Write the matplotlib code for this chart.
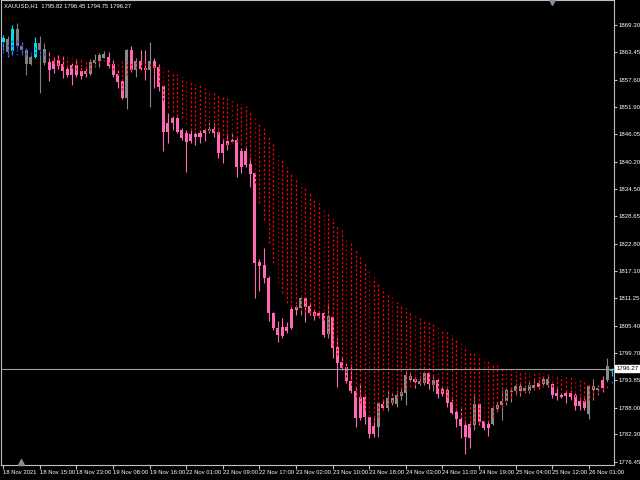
import matplotlib
matplotlib.use("Agg")
import matplotlib.pyplot as plt
import matplotlib.transforms as mtransforms
import numpy as np

plt.rcParams.update({
    "font.family": ["Liberation Sans", "DejaVu Sans"],
})

## ----- data (XAUUSD H1, 18 Nov 07:00 .. 26 Nov) ----- ##
open_ = np.array([
    1865.6, 1866.2, 1863.7, 1868.3, 1864.7, 1863.9, 1862.4, 1862.4, 1865.4, 1864.1,
    1861.3, 1861.5, 1861.8, 1860.9, 1859.9, 1860.7, 1860.7, 1859.4, 1859.4, 1858.8,
    1861.1, 1861.5, 1862.2, 1862.4, 1860.9, 1858.8, 1857.3, 1853.7, 1863.9, 1859.6,
    1861.5, 1860.1, 1859.6, 1861.5, 1860.3, 1856.2, 1848.4, 1849.4, 1849.4, 1846.9,
    1846.3, 1846.0, 1846.0, 1846.3, 1846.9, 1846.7, 1847.1, 1846.5, 1843.9, 1844.6,
    1844.8, 1844.8, 1842.4, 1842.4, 1839.7, 1837.8, 1818.9, 1818.2, 1815.5, 1808.0,
    1804.9, 1805.1, 1805.1, 1808.9, 1809.3, 1809.1, 1811.2, 1809.5, 1808.3, 1808.0,
    1808.0, 1803.6, 1807.2, 1800.8, 1797.6, 1796.6, 1793.6, 1791.5, 1790.2, 1790.2,
    1786.0, 1784.1, 1783.8, 1788.7, 1787.9, 1788.9, 1788.7, 1790.4, 1791.1, 1793.8,
    1794.0, 1793.0, 1793.2, 1795.3, 1792.8, 1793.8, 1791.9, 1791.7, 1789.2, 1787.0,
    1785.5, 1784.3, 1784.5, 1784.3, 1788.7, 1785.1, 1784.5, 1784.5, 1787.7, 1788.5,
    1789.4, 1791.3, 1791.5, 1791.5, 1791.5, 1791.5, 1792.1, 1793.2, 1793.0, 1792.8,
    1793.0, 1791.1, 1790.6, 1791.1, 1791.1, 1790.6, 1789.4, 1789.4, 1786.6, 1791.7,
    1791.7, 1793.8, 1793.8, 1795.82])
high = np.array([
    1867.1, 1866.9, 1869.2, 1869.6, 1865.6, 1864.3, 1862.8, 1866.6, 1866.9, 1865.4,
    1863.5, 1862.4, 1862.8, 1862.6, 1860.3, 1861.3, 1862.0, 1860.1, 1860.1, 1862.0,
    1863.0, 1863.2, 1863.7, 1863.5, 1861.8, 1859.6, 1857.5, 1864.1, 1864.7, 1862.2,
    1863.9, 1863.9, 1865.6, 1862.2, 1860.9, 1856.4, 1850.5, 1849.9, 1849.7, 1847.3,
    1846.9, 1846.9, 1846.5, 1846.9, 1847.1, 1848.6, 1848.4, 1846.7, 1845.2, 1846.3,
    1846.5, 1845.2, 1843.1, 1843.3, 1841.2, 1838.0, 1819.5, 1821.8, 1815.9, 1808.3,
    1806.3, 1807.0, 1806.1, 1809.3, 1809.7, 1811.4, 1811.4, 1810.2, 1808.7, 1808.3,
    1808.3, 1810.2, 1807.4, 1802.7, 1798.7, 1797.4, 1797.2, 1792.3, 1793.2, 1790.9,
    1786.4, 1785.8, 1789.2, 1789.6, 1791.7, 1791.1, 1791.7, 1792.3, 1795.7, 1795.3,
    1794.5, 1794.7, 1795.5, 1795.5, 1794.7, 1794.3, 1792.3, 1792.1, 1789.8, 1787.5,
    1787.9, 1785.3, 1784.7, 1791.1, 1788.9, 1785.3, 1785.3, 1788.5, 1789.2, 1791.7,
    1792.1, 1792.3, 1793.2, 1793.2, 1792.8, 1793.8, 1793.8, 1793.8, 1794.5, 1794.7,
    1793.2, 1792.1, 1791.1, 1791.7, 1791.7, 1791.1, 1790.2, 1790.0, 1792.8, 1794.0,
    1792.8, 1794.7, 1798.5, 1796.45])
low = np.array([
    1863.9, 1862.4, 1862.8, 1864.3, 1863.0, 1858.6, 1860.7, 1862.2, 1854.8, 1860.7,
    1857.3, 1859.0, 1859.9, 1858.0, 1858.2, 1856.5, 1858.2, 1857.7, 1858.2, 1858.6,
    1860.3, 1860.3, 1862.2, 1860.1, 1858.2, 1855.8, 1853.5, 1851.4, 1859.2, 1858.2,
    1859.6, 1857.5, 1851.8, 1855.8, 1855.2, 1842.4, 1844.1, 1846.9, 1846.3, 1844.8,
    1838.0, 1844.1, 1843.7, 1844.1, 1844.6, 1846.3, 1845.4, 1841.0, 1839.9, 1842.7,
    1844.1, 1836.9, 1837.8, 1839.0, 1834.8, 1811.2, 1812.7, 1814.4, 1806.3, 1804.5,
    1801.9, 1802.7, 1803.8, 1804.7, 1807.6, 1807.6, 1806.1, 1807.6, 1806.6, 1807.0,
    1803.0, 1802.7, 1798.5, 1792.3, 1796.0, 1793.2, 1791.1, 1783.8, 1785.3, 1784.5,
    1781.5, 1781.7, 1781.7, 1787.5, 1787.3, 1788.5, 1788.1, 1789.6, 1788.5, 1793.6,
    1792.1, 1792.8, 1792.8, 1791.9, 1791.5, 1790.0, 1790.4, 1788.1, 1786.6, 1783.8,
    1781.5, 1778.1, 1779.4, 1783.2, 1784.3, 1783.2, 1782.0, 1784.3, 1787.0, 1785.3,
    1788.5, 1789.2, 1790.6, 1790.4, 1791.1, 1791.1, 1791.7, 1791.9, 1792.6, 1792.3,
    1790.0, 1789.6, 1790.0, 1788.9, 1789.6, 1787.5, 1787.5, 1787.5, 1785.5, 1789.6,
    1790.6, 1791.3, 1793.4, 1794.75])
close = np.array([
    1866.4, 1863.5, 1868.3, 1864.7, 1863.9, 1860.9, 1860.9, 1865.4, 1863.9, 1861.1,
    1859.6, 1859.9, 1860.5, 1859.4, 1858.6, 1858.6, 1858.6, 1858.4, 1858.8, 1861.3,
    1861.8, 1862.8, 1863.0, 1860.5, 1858.6, 1857.1, 1853.7, 1863.9, 1859.6, 1861.5,
    1859.9, 1859.6, 1861.5, 1860.1, 1856.0, 1846.5, 1846.5, 1848.4, 1846.5, 1845.2,
    1844.4, 1844.6, 1845.4, 1845.4, 1846.3, 1847.1, 1846.3, 1842.0, 1842.0, 1843.7,
    1844.4, 1839.0, 1839.0, 1839.5, 1837.6, 1818.7, 1818.0, 1815.5, 1808.0, 1804.9,
    1803.4, 1803.2, 1804.2, 1804.9, 1808.7, 1811.2, 1809.3, 1808.0, 1807.4, 1807.4,
    1803.4, 1807.4, 1800.6, 1797.4, 1796.4, 1793.6, 1791.5, 1785.8, 1785.8, 1786.0,
    1782.4, 1782.4, 1788.9, 1787.9, 1790.0, 1790.0, 1790.6, 1791.3, 1794.9, 1794.7,
    1793.4, 1793.6, 1795.3, 1793.0, 1793.8, 1790.9, 1790.9, 1788.9, 1786.8, 1785.5,
    1784.1, 1781.7, 1781.5, 1788.7, 1784.9, 1783.6, 1783.6, 1787.9, 1788.5, 1789.4,
    1791.7, 1791.5, 1792.6, 1792.6, 1792.1, 1792.8, 1792.8, 1792.3, 1794.0, 1794.0,
    1790.6, 1790.4, 1790.2, 1790.4, 1790.2, 1788.3, 1788.3, 1787.9, 1792.6, 1792.6,
    1792.1, 1792.1, 1796.8, 1796.27])

# cloud indicator: fast and slow lines
ma_fast = np.array([
    1865.6, 1865.2, 1866.0, 1866.0, 1865.2, 1864.3, 1863.5, 1864.6, 1864.1, 1863.3,
    1862.2, 1861.2, 1860.7, 1860.5, 1860.3, 1860.1, 1859.7, 1859.5, 1859.0, 1859.7,
    1860.5, 1861.2, 1861.6, 1860.9, 1859.7, 1858.6, 1855.4, 1858.6, 1859.7, 1860.1,
    1860.3, 1859.7, 1860.5, 1860.1, 1857.1, 1853.3, 1851.6, 1850.8, 1849.9, 1849.5,
    1848.2, 1846.9, 1846.9, 1847.4, 1846.9, 1846.7, 1846.7, 1846.1, 1844.8, 1843.8,
    1844.2, 1844.4, 1843.8, 1843.1, 1840.6, 1835.7, 1831.4, 1827.8, 1822.9, 1818.7,
    1814.5, 1812.3, 1810.2, 1809.4, 1809.1, 1808.7, 1808.3, 1808.1, 1807.7, 1807.2,
    1806.6, 1803.8, 1801.3, 1799.2, 1796.6, 1794.5, 1792.8, 1790.3, 1789.0, 1787.5,
    1786.0, 1784.9, 1786.0, 1787.5, 1788.6, 1789.2, 1790.0, 1790.9, 1791.7, 1792.4,
    1792.8, 1793.2, 1793.4, 1793.2, 1792.8, 1792.2, 1791.3, 1790.3, 1789.0, 1787.5,
    1786.0, 1784.7, 1783.9, 1784.7, 1784.7, 1784.9, 1784.9, 1786.0, 1787.1, 1788.1,
    1789.2, 1790.0, 1790.7, 1791.1, 1791.3, 1791.5, 1791.9, 1792.2, 1792.4, 1792.8,
    1792.4, 1792.2, 1791.7, 1791.3, 1791.1, 1790.3, 1789.6, 1789.2, 1789.6, 1790.3,
    1791.1, 1791.7, 1792.2, 1793.6])
ma_slow = np.array([
    1862.6, 1862.6, 1862.6, 1862.9, 1862.9, 1862.9, 1862.9, 1862.9, 1862.9, 1862.9,
    1863.1, 1862.9, 1862.6, 1862.6, 1862.4, 1862.4, 1862.2, 1862.0, 1861.8, 1861.8,
    1861.8, 1861.8, 1861.8, 1861.8, 1861.6, 1861.6, 1861.6, 1861.6, 1861.6, 1861.4,
    1861.4, 1861.2, 1861.2, 1860.9, 1860.5, 1860.3, 1859.9, 1859.3, 1858.8, 1858.2,
    1857.6, 1857.1, 1856.7, 1856.5, 1855.9, 1855.4, 1855.0, 1854.8, 1854.2, 1853.7,
    1853.3, 1852.9, 1852.5, 1852.0, 1851.2, 1849.9, 1848.6, 1847.4, 1845.7, 1844.2,
    1842.3, 1841.0, 1839.1, 1838.0, 1836.7, 1835.7, 1834.6, 1833.6, 1832.5, 1831.4,
    1830.4, 1829.3, 1828.3, 1826.8, 1825.7, 1824.2, 1822.9, 1821.5, 1820.0, 1818.7,
    1817.2, 1815.7, 1814.5, 1813.4, 1812.3, 1811.5, 1810.4, 1809.8, 1809.1, 1808.5,
    1807.9, 1807.2, 1806.8, 1806.2, 1805.7, 1805.1, 1804.7, 1804.1, 1803.4, 1802.8,
    1801.9, 1801.1, 1800.2, 1799.6, 1799.2, 1798.5, 1797.9, 1797.5, 1797.0, 1796.6,
    1796.4, 1796.0, 1795.8, 1795.6, 1795.6, 1795.6, 1795.6, 1795.3, 1795.3, 1795.3,
    1795.1, 1794.9, 1794.7, 1794.5, 1794.5, 1794.3, 1793.9, 1793.4, 1793.2, 1793.0,
    1792.8, 1792.6, 1792.6, 1792.8])

x_labels = ["18 Nov 2021", "18 Nov 15:00", "18 Nov 23:00", "19 Nov 08:00",
            "19 Nov 16:00", "22 Nov 01:00", "22 Nov 09:00", "22 Nov 17:00",
            "23 Nov 02:00", "23 Nov 10:00", "23 Nov 18:00", "24 Nov 03:00",
            "24 Nov 11:00", "24 Nov 19:00", "25 Nov 04:00", "25 Nov 12:00",
            "26 Nov 01:00"]
label_step = 8

y_ticks = [1869.30, 1863.45, 1857.60, 1851.90, 1846.05, 1840.20, 1834.50, 1828.65,
           1822.80, 1817.10, 1811.25, 1805.40, 1799.70, 1793.85, 1788.00, 1782.30,
           1776.45]

symbol = "XAUUSD,H1"

## ----- styles ----- ##
c_bg = "black"
c_axis = "#c0c0c0"
c_text = "white"
c_up_bull = "#00e0e8"
c_up_bear = "#808080"
c_dn_bull = "#8a8a8a"
c_dn_bear = "#ff69b4"
c_dot_up = "#1e3cff"
c_dot_dn = "#ff0000"
c_dot_dn2 = "#8b0000"
fs_y = 4.4
fs_x = 4.2

n = len(close)
x = np.arange(n)

fig = plt.figure(figsize=(6.4, 4.8), dpi=100, facecolor=c_bg)
ax = fig.add_axes([1 / 640, 15 / 480, 613 / 640, 465 / 480])
ax.set_facecolor(c_bg)

up = ma_fast > ma_slow
bull = close >= open_
colors = np.where(up, np.where(bull, c_up_bull, c_up_bear),
                  np.where(bull, c_dn_bull, c_dn_bear))

body_lo = np.minimum(open_, close)
body_h = np.maximum(np.abs(close - open_), 0.22)

ax.vlines(x, low, high, colors=colors, lw=0.8, zorder=2)
ax.bar(x, body_h, bottom=body_lo, width=0.66, color=colors, lw=0, zorder=3)

# dotted cloud between fast and slow lines
dot_cols = np.where(up, c_dot_up, np.where(x % 5 == 0, c_dot_dn2, c_dot_dn))
ax.vlines(x, ma_fast, ma_slow, colors=dot_cols, lw=0.9,
          linestyles=(0, (1.8, 1.8)), zorder=4)

# current price line + label
ax.axhline(close[-1], color="#9a9ea4", lw=0.8, zorder=5)
trans = mtransforms.blended_transform_factory(ax.transAxes, ax.transData)
ax.text(1.004, close[-1], f"{close[-1]:.2f}", transform=trans, ha="left", va="center",
        fontsize=fs_y, color="black", zorder=6, clip_on=False,
        bbox=dict(facecolor="white", edgecolor="white", pad=0.8))

# header
ax.text(0.005, 0.992, f"{symbol}  {open_[-1]:.2f} {high[-1]:.2f} {low[-1]:.2f} {close[-1]:.2f}",
        transform=ax.transAxes, ha="left", va="top", fontsize=fs_x, color=c_text)

# shift markers
ax.plot([0.899], [0.995], marker="v", ms=4, color="#8090a0", transform=ax.transAxes,
        clip_on=False, zorder=7)
ax.plot([0.033], [0.006], marker="^", ms=4, color="#8090a0", transform=ax.transAxes,
        clip_on=False, zorder=7)

ax.set_xlim(-0.5, n - 0.5)
ax.set_ylim(1775.82, 1874.54)

ax.yaxis.tick_right()
ax.set_yticks(y_ticks, [f"{v:.2f}" for v in y_ticks])
ax.set_xticks(x[::label_step], x_labels)
for lbl in ax.get_xticklabels():
    lbl.set_horizontalalignment("left")

ax.tick_params(axis="y", length=2, width=0.8, pad=1.2, color=c_axis,
               labelcolor=c_text, labelsize=fs_y)
ax.tick_params(axis="x", length=3, width=0.8, pad=0.8, color=c_axis,
               labelcolor=c_text, labelsize=fs_x)

for sp in ax.spines.values():
    sp.set_color(c_axis)
    sp.set_linewidth(0.8)

fig.savefig("out.png", dpi=100, facecolor=c_bg)
